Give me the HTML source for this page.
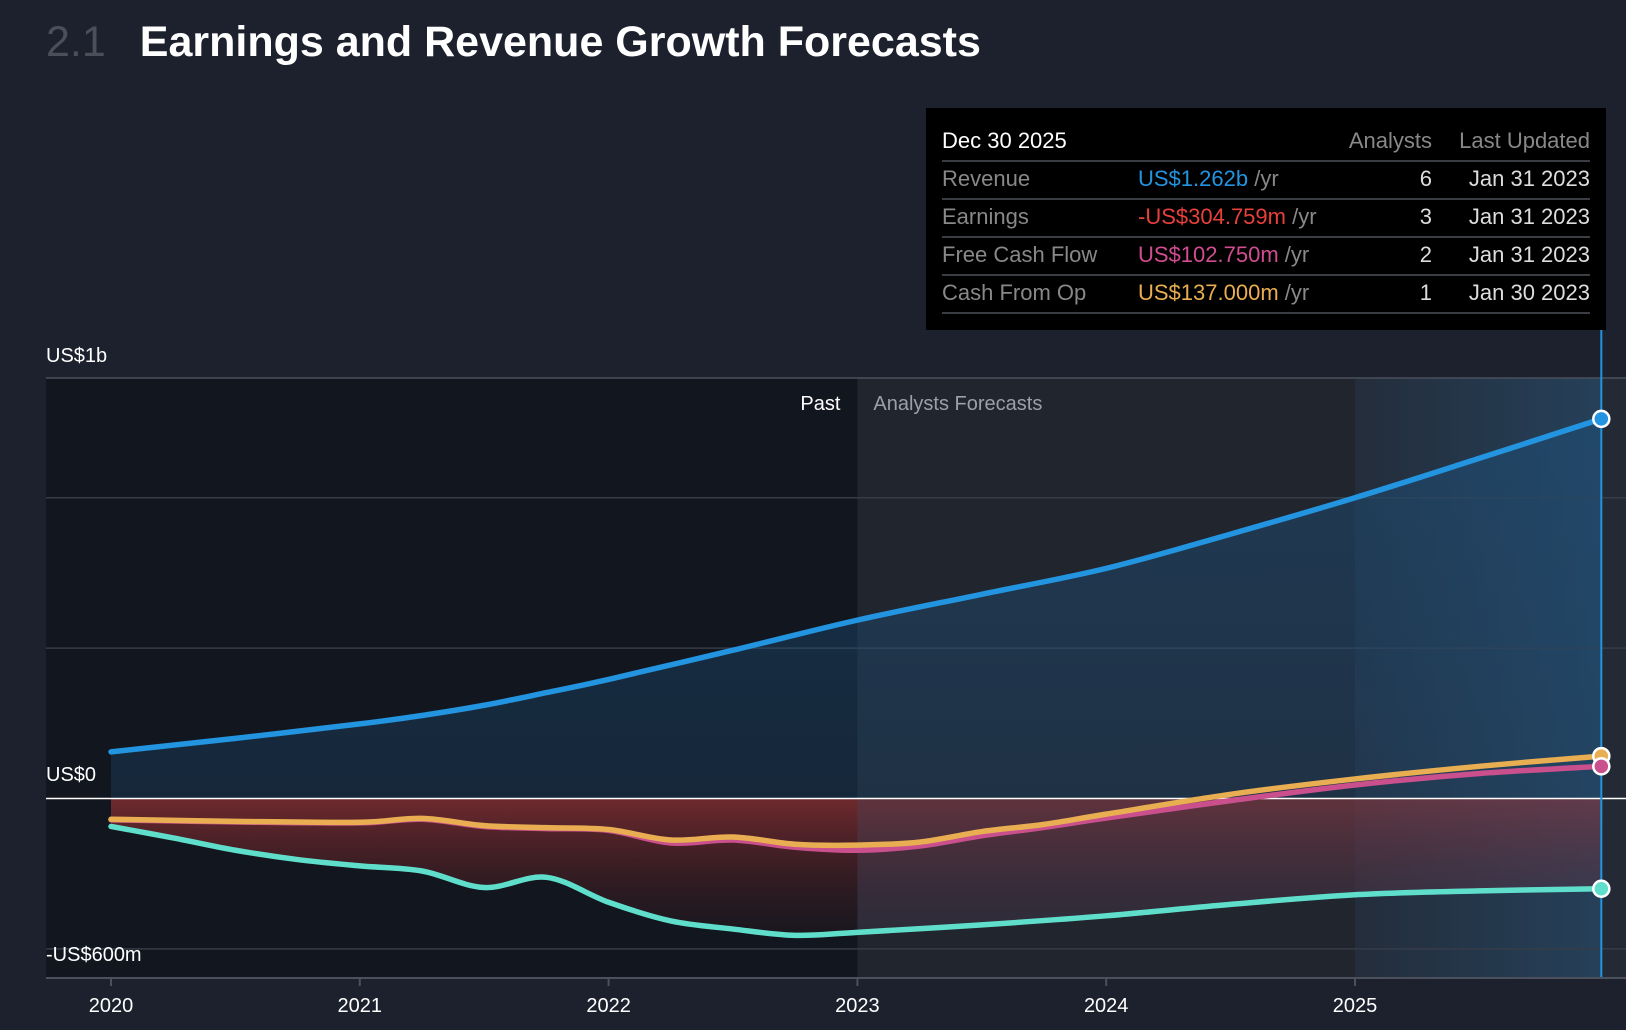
<!DOCTYPE html>
<html><head><meta charset="utf-8">
<style>
body{margin:0;background:#1c212d;width:1626px;height:1030px;overflow:hidden;font-family:"Liberation Sans",sans-serif;}
#title{position:absolute;left:46px;top:18px;font-size:43px;color:#fff;white-space:nowrap;font-weight:bold}
#title .num{color:#4a4f5a;margin-right:34px;font-weight:normal}
#tip{position:absolute;left:926px;top:108px;width:680px;height:222px;background:#000}
.r{position:absolute;left:16px;right:16px;height:38px;border-bottom:2px solid #3a3d44;font-size:22px;color:#888}
.r span{position:absolute;top:6px;white-space:nowrap}
.c1{left:0}.c2{left:196px}.c3{right:158px;color:#ddd}.c4{right:0;color:#ddd}
</style></head><body>
<div id="title"><span class="num">2.1</span>Earnings and Revenue Growth Forecasts</div>
<svg id="chart" width="1626" height="1030" style="position:absolute;left:0;top:0"></svg>
<div id="tip">
 <div class="r" style="top:14px"><span class="c1" style="color:#fff">Dec 30 2025</span><span class="c3" style="color:#888">Analysts</span><span class="c4" style="color:#888">Last Updated</span></div>
 <div class="r" style="top:52px"><span class="c1">Revenue</span><span class="c2"><b style="font-weight:normal;color:#2394df">US$1.262b</b> /yr</span><span class="c3">6</span><span class="c4">Jan 31 2023</span></div>
 <div class="r" style="top:90px"><span class="c1">Earnings</span><span class="c2"><b style="font-weight:normal;color:#e8403a">-US$304.759m</b> /yr</span><span class="c3">3</span><span class="c4">Jan 31 2023</span></div>
 <div class="r" style="top:128px"><span class="c1">Free Cash Flow</span><span class="c2"><b style="font-weight:normal;color:#d04d91">US$102.750m</b> /yr</span><span class="c3">2</span><span class="c4">Jan 31 2023</span></div>
 <div class="r" style="top:166px"><span class="c1">Cash From Op</span><span class="c2"><b style="font-weight:normal;color:#e9ae51">US$137.000m</b> /yr</span><span class="c3">1</span><span class="c4">Jan 30 2023</span></div>
</div>
<script>
const years=[2020,2021,2022,2023,2024,2025];
const yLabels=["US$1b","US$0","-US$600m"];
const revT=[2020,2020.5,2021,2021.25,2021.5,2021.75,2022,2022.5,2023,2023.5,2024,2024.5,2025,2025.5,2025.99];
const revV=[155,200,248,276,310,352,396,493,593,679,765,879,1000,1131,1262];
const cfoT=[2020,2020.5,2021,2021.25,2021.5,2021.75,2022,2022.25,2022.5,2022.75,2023,2023.25,2023.5,2023.75,2024,2024.5,2025,2025.5,2025.99];
const cfoV=[-69,-76,-79,-66,-90,-97,-103,-138,-128,-152,-155,-145,-110,-86,-52,14,65,107,141];
const fcfV=[-71,-78,-81,-69,-93,-100,-106,-148,-138,-162,-172,-158,-124,-96,-65,-7,45,83,107];
const earnT=[2020,2020.25,2020.5,2020.75,2021,2021.25,2021.5,2021.75,2022,2022.25,2022.5,2022.75,2023,2023.5,2024,2024.5,2025,2025.5,2025.99];
const earnV=[-93,-131,-172,-203,-224,-241,-296,-262,-345,-407,-434,-455,-445,-420,-390,-352,-320,-307,-300];
const NS="http://www.w3.org/2000/svg";
const svg=document.getElementById('chart');
const X=t=>111+(t-2020)*248.8;
const Y=v=>798.5-v*0.3008;
const L=46,R=1626,T=378,B=978,XE=X(2025.99);
function mk(tag,attrs,parent){const e=document.createElementNS(NS,tag);for(const k in attrs)e.setAttribute(k,attrs[k]);(parent||svg).appendChild(e);return e;}
function path(ts,vs){let p=[];for(let i=0;i<ts.length;i++)p.push([X(ts[i]),Y(vs[i])]);
 let d="M"+p[0][0]+","+p[0][1];
 for(let i=0;i<p.length-1;i++){const p0=p[i-1]||p[i],p1=p[i],p2=p[i+1],p3=p[i+2]||p2;
  d+=" C"+(p1[0]+(p2[0]-p0[0])/6)+","+(p1[1]+(p2[1]-p0[1])/6)+" "+(p2[0]-(p3[0]-p1[0])/6)+","+(p2[1]-(p3[1]-p1[1])/6)+" "+p2[0]+","+p2[1];}
 return d;}
const ep=path(earnT,earnV);
const earnArea=ep+" L"+XE+","+Y(0)+" L"+X(2020)+","+Y(0)+"Z";
const defs=mk('defs',{});
defs.innerHTML='<linearGradient id="gb" x1="0" y1="0" x2="0" y2="1"><stop offset="0" stop-color="#1d4f7a" stop-opacity="0.5"/><stop offset="1" stop-color="#1d4f7a" stop-opacity="0.3"/></linearGradient><linearGradient id="gr" x1="0" y1="0" x2="0" y2="1"><stop offset="0" stop-color="#b8393a" stop-opacity="0.8"/><stop offset="1" stop-color="#5a1f25" stop-opacity="0.15"/></linearGradient><linearGradient id="gz" x1="0" y1="0" x2="1" y2="0"><stop offset="0" stop-color="#2a6a9a" stop-opacity="0.05"/><stop offset="1" stop-color="#2a6a9a" stop-opacity="0.35"/></linearGradient><clipPath id="ec"><path d="'+earnArea+'"/></clipPath>';
let e=mk('rect',{x:L,y:T,width:X(2023)-L,height:B-T,fill:'#12161e'});

e=mk('rect',{x:X(2023),y:T,width:X(2025)-X(2023),height:B-T,fill:'#20252e'});

e=mk('rect',{x:X(2025),y:T,width:R-X(2025),height:B-T,fill:'#232a36'});
e=mk('rect',{x:X(2025),y:T,width:XE-X(2025),height:B-T,fill:'url(#gz)'});

[1000,500,-500].forEach(v=>{const g=mk('line',{x1:L,x2:R,y1:Y(v),y2:Y(v),stroke:'#363c48','stroke-width':1.5});
});
mk('line',{x1:L,x2:R,y1:T,y2:T,stroke:'#4a505c','stroke-width':1.5});
const rp=path(revT,revV);
e=mk('path',{d:rp+" L"+XE+","+Y(0)+" L"+X(2020)+","+Y(0)+"Z",fill:'url(#gb)'});

e=mk('path',{d:earnArea,fill:'url(#gr)',opacity:0.7});

e=mk('rect',{x:X(2023),y:Y(0),width:XE-X(2023),height:Y(-460)-Y(0),fill:'#3a3a50',opacity:0.35,'clip-path':'url(#ec)'});
e=mk('line',{x1:L,x2:R,y1:Y(0),y2:Y(0),stroke:'#fff','stroke-width':1.5});

const series=[['revenue-line',revT,revV,'#2394df'],['earnings-line',earnT,earnV,'#5fdfcb'],['fcf-line',cfoT,fcfV,'#c94f8d'],['cfo-line',cfoT,cfoV,'#e9ae51']];
series.forEach(s=>{const l=mk('path',{d:path(s[1],s[2]),fill:'none',stroke:s[3],'stroke-width':5.5,'stroke-linecap':'round'});
});
e=mk('line',{x1:XE,x2:XE,y1:330,y2:B,stroke:'#2394df','stroke-width':2});

series.slice().reverse().forEach(s=>{const n=s[1].length-1;const c=mk('circle',{cx:X(s[1][n]),cy:Y(s[2][n]),r:8,fill:s[3],stroke:'#fff','stroke-width':2.5});
});
mk('line',{x1:L,x2:R,y1:B,y2:B,stroke:'#4a505c','stroke-width':2});
years.forEach(y=>{const x=X(y);mk('line',{x1:x,x2:x,y1:B,y2:B+8,stroke:'#4a505c','stroke-width':2});
const t=mk('text',{x:x,y:1012,fill:'#fff','font-size':20,'text-anchor':'middle','font-family':'Liberation Sans'});t.textContent=y;
});
const yPos=[362,781,961];
yLabels.forEach((s,i)=>{const t=mk('text',{x:46,y:yPos[i],fill:'#fff','font-size':20,'font-family':'Liberation Sans'});t.textContent=s;
});
e=mk('text',{x:X(2023)-17,y:410,fill:'#fff','font-size':20,'text-anchor':'end','font-family':'Liberation Sans'});e.textContent='Past';

e=mk('text',{x:X(2023)+16,y:410,fill:'#9aa0a8','font-size':20,'font-family':'Liberation Sans'});e.textContent='Analysts Forecasts';

</script>
</body></html>
